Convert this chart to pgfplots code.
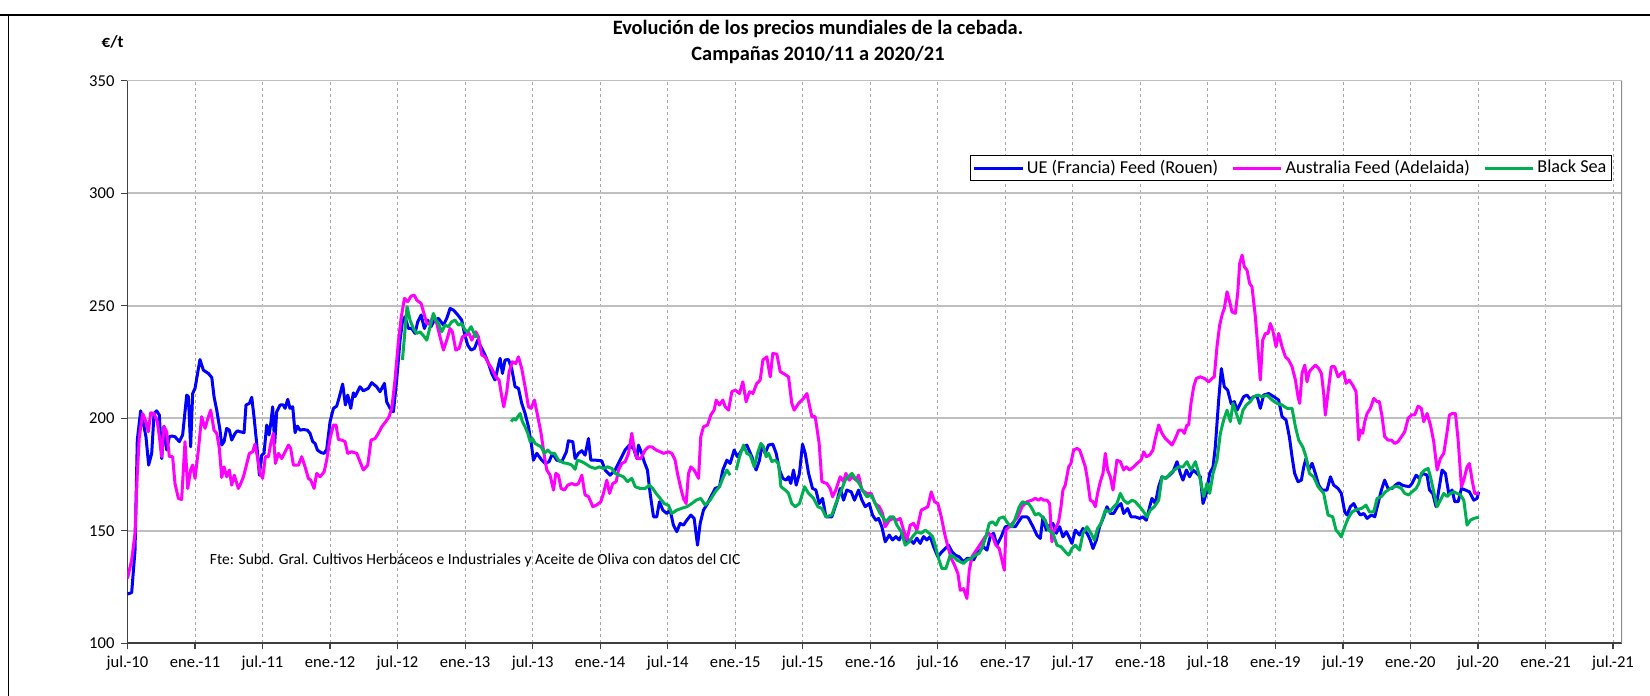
\documentclass[border=0pt]{standalone}
\usepackage{pgfplots}
\pgfplotsset{compat=1.18}
\usepackage{fontspec}
\setmainfont{Carlito}
\definecolor{cblue}{HTML}{0000FF}
\definecolor{cmag}{HTML}{FF00FF}
\definecolor{cgreen}{HTML}{00B050}
\begin{document}
\begin{tikzpicture}
\path[use as bounding box] (0,0) rectangle (825pt,348pt);
\draw[black, line width=1.2pt] (0,340.5pt) -- (825pt,340.5pt);
\draw[black, line width=0.8pt] (4.3pt,340.5pt) -- (4.3pt,0);
\node[font=\fontsize{10.2}{12.7}\selectfont\bfseries, align=center] at (409pt,327pt) {Evolución de los precios mundiales de la cebada.\\Campañas 2010/11 a 2020/21};
\node[font=\fontsize{8.5}{10}\selectfont\bfseries] at (56.3pt,327pt) {€/t};
\begin{axis}[
  at={(63.75pt,26.35pt)}, anchor=south west,
  scale only axis, width=747.25pt, height=281.3pt,
  xmin=0, xmax=132.8, ymin=100, ymax=350,
  axis x line*=bottom, axis y line*=left,
  axis line style={line width=0.9pt, black!75},
  xtick={0,6,...,132},
  xticklabels={jul.-10,ene.-11,jul.-11,ene.-12,jul.-12,ene.-13,jul.-13,ene.-14,jul.-14,ene.-15,jul.-15,ene.-16,jul.-16,ene.-17,jul.-17,ene.-18,jul.-18,ene.-19,jul.-19,ene.-20,jul.-20,ene.-21,jul.-21},
  ytick={100,150,...,350},
  tick align=outside, major tick length=3pt,
  tick style={black!75, line width=0.6pt},
  ticklabel style={font=\fontsize{8.3}{9}\selectfont},
  /pgf/number format/assume math mode=true,
  xmajorgrids, ymajorgrids,
  x grid style={dash pattern=on 1.5pt off 1.5pt, black!35, line width=0.4pt},
  y grid style={black!25, line width=0.8pt},
  unbounded coords=jump,
  legend columns=3,
  legend style={at={(0.9933,0.868)}, anchor=north east, draw=black, line width=0.6pt,
    font=\fontsize{9.1}{9}\selectfont, inner sep=1pt,
    nodes={inner xsep=1.5pt, inner ysep=1.2pt},
    /tikz/every even column/.append style={column sep=5pt}},
  legend image code/.code={\draw[line width=1.5pt,#1] (0cm,0cm) -- (0.85cm,0cm);},
  every axis plot/.append style={line width=1.5pt, line join=round},
]
\addplot[cblue] coordinates {
(0,121.9)(0.37,122.5)(0.67,141.4)(0.87,190.3)(1.17,203.3)(1.47,196.2)(1.64,191.8)(1.88,179.2)(2.15,184.4)(2.36,202.1)(2.59,203.3)(2.83,201.4)(3.04,182.1)(3.24,196.5)(3.48,185.9)(3.72,191.8)(3.93,192.1)(4.22,191.8)(4.61,189.6)(4.90,192.6)(5.26,210.3)(5.41,209.6)(5.61,187.3)(5.79,211.0)(6.0,213.3)(6.44,226.1)(6.74,221.4)(7.19,219.9)(7.49,218.1)(7.69,209.6)(7.93,203.6)(8.22,194.7)(8.37,188.1)(8.58,189.6)(8.81,195.5)(9.05,194.7)(9.26,190.3)(9.56,193.3)(9.76,194.4)(10.0,194.0)(10.36,193.6)(10.53,205.9)(10.83,206.6)(11.04,209.3)(11.24,200.7)(11.48,188.8)(11.72,174.7)(11.93,183.6)(12.13,184.4)(12.37,197.0)(12.58,192.6)(12.73,197.7)(12.90,205.1)(13.08,188.8)(13.26,202.9)(13.56,205.9)(13.85,205.9)(14.0,204.4)(14.24,208.4)(14.44,204.4)(14.68,205.1)(14.89,193.6)(15.1,196.5)(15.33,194.7)(15.63,195.0)(15.99,194.7)(16.22,193.3)(16.46,189.6)(16.67,188.8)(16.87,185.9)(17.17,184.8)(17.47,184.4)(17.70,186.1)(18.0,198.5)(18.30,204.4)(18.59,205.4)(18.83,209.6)(19.12,215.2)(19.36,205.9)(19.57,210.3)(19.84,204.4)(20.07,211.3)(20.22,209.6)(20.66,214.0)(20.96,212.2)(21.40,213.3)(21.70,215.8)(22.14,214.0)(22.44,211.8)(22.83,215.5)(23.03,207.3)(23.33,204.4)(23.63,202.9)(23.92,217.0)(24.22,234.7)(24.43,242.9)(24.66,245.1)(24.96,239.9)(25.26,239.9)(25.55,237.7)(25.79,242.9)(26.09,245.9)(26.38,239.9)(26.68,243.6)(26.97,240.7)(27.27,243.6)(27.63,244.4)(28.07,241.4)(28.37,244.4)(28.66,248.8)(28.96,248.1)(29.35,245.9)(29.70,243.6)(29.94,237.7)(30.23,232.5)(30.53,230.3)(30.83,231.0)(31.12,234.7)(31.48,231.0)(31.77,228.1)(32.07,224.4)(32.37,219.9)(32.66,217.0)(32.96,223.6)(33.11,226.6)(33.32,219.9)(33.55,225.9)(33.85,226.1)(34.14,222.1)(34.44,214.0)(34.74,213.3)(35.03,206.6)(35.33,202.1)(35.63,196.2)(35.92,187.3)(36.07,181.4)(36.37,184.4)(36.81,181.4)(37.11,179.9)(37.46,180.7)(37.76,184.4)(38.14,181.4)(38.59,180.7)(39.0,185.1)(39.18,190.0)(39.57,189.6)(39.77,182.1)(40.07,184.4)(40.37,185.6)(40.66,183.6)(40.96,191.0)(41.17,181.4)(41.55,181.4)(42.14,181.1)(42.44,177.0)(42.89,174.7)(43.33,177.0)(43.77,181.4)(44.22,185.9)(44.60,188.1)(44.96,186.6)(45.26,182.1)(45.40,188.1)(45.70,184.4)(45.91,180.7)(46.20,177.0)(46.44,166.6)(46.74,156.2)(47.03,156.2)(47.27,162.9)(47.57,159.2)(47.92,157.7)(48.22,159.2)(48.51,152.5)(48.81,149.6)(49.11,153.3)(49.40,152.5)(49.70,154.7)(50.06,157.0)(50.35,155.5)(50.65,143.6)(50.89,153.3)(51.18,159.2)(51.54,162.1)(51.92,165.9)(52.22,168.8)(52.60,169.6)(52.90,177.0)(53.26,181.4)(53.55,179.9)(53.91,185.9)(54.20,182.9)(54.59,185.9)(55.03,188.1)(55.48,182.9)(55.86,177.0)(56.16,181.4)(56.37,188.1)(56.66,184.4)(56.96,188.1)(57.34,188.5)(57.64,184.4)(57.94,177.0)(58.23,173.3)(58.53,172.5)(58.74,174.0)(58.94,171.0)(59.18,177.0)(59.42,170.3)(59.71,175.5)(59.98,188.5)(60.22,184.4)(60.52,175.5)(60.87,168.8)(61.17,168.1)(61.46,162.1)(61.76,164.4)(62.06,156.2)(62.59,156.2)(63.03,162.9)(63.33,168.8)(63.63,163.6)(63.92,168.1)(64.31,167.3)(64.60,163.6)(64.96,168.1)(65.26,163.6)(65.55,160.7)(65.91,162.1)(66.20,157.0)(66.50,154.7)(66.74,155.5)(67.03,151.8)(67.33,145.1)(67.69,148.1)(67.98,145.9)(68.28,147.4)(68.57,145.9)(68.87,148.9)(69.17,145.1)(69.55,145.9)(69.85,144.4)(70.14,146.7)(70.44,144.4)(70.74,147.4)(71.03,145.9)(71.33,147.4)(71.63,142.9)(72.01,138.4)(72.37,140.7)(72.66,142.1)(72.96,143.6)(73.26,140.7)(73.55,139.2)(73.91,138.4)(74.29,136.2)(74.59,137.7)(74.89,137.7)(75.18,137.0)(75.48,140.0)(75.77,141.4)(76.07,142.9)(76.37,141.4)(76.66,147.4)(76.96,148.9)(77.26,143.6)(77.64,147.4)(78.0,151.8)(78.44,151.8)(78.89,151.8)(79.18,154.0)(79.48,156.2)(79.92,156.2)(80.07,155.5)(80.46,151.8)(80.81,148.1)(81.11,146.6)(81.35,156.2)(81.64,150.3)(81.94,152.5)(82.23,153.3)(82.53,148.9)(82.83,151.8)(83.12,147.3)(83.42,149.6)(83.72,146.6)(83.92,144.4)(84.22,150.3)(84.60,148.1)(84.90,151.0)(85.26,148.9)(85.55,145.9)(85.79,142.1)(86.09,145.9)(86.38,151.8)(86.74,156.2)(87.03,160.7)(87.33,157.7)(87.63,157.7)(87.98,160.7)(88.28,162.1)(88.52,157.7)(88.87,159.9)(89.17,156.2)(89.55,156.2)(89.94,155.5)(90.23,156.2)(90.53,154.7)(90.83,160.7)(91.03,164.4)(91.33,162.1)(91.63,169.6)(91.92,174.0)(92.22,173.3)(92.60,174.7)(92.90,176.2)(93.26,180.7)(93.55,175.5)(93.79,172.5)(94.09,177.0)(94.38,174.0)(94.68,177.0)(95.03,175.5)(95.33,174.0)(95.57,162.1)(95.86,166.6)(96.16,175.5)(96.46,178.4)(96.66,187.3)(96.96,208.1)(97.20,222.1)(97.46,214.0)(97.76,212.5)(98.06,206.6)(98.35,207.4)(98.59,203.6)(98.89,206.6)(99.18,209.6)(99.48,210.3)(99.77,208.4)(100.07,209.6)(100.37,209.9)(100.66,204.4)(100.96,210.3)(101.40,211.0)(101.85,209.6)(102.29,208.1)(102.59,200.7)(102.95,199.2)(103.24,191.8)(103.48,182.9)(103.71,175.5)(104.01,171.8)(104.31,172.5)(104.52,178.4)(104.72,182.1)(104.96,177.0)(105.26,180.0)(105.55,175.5)(105.85,170.3)(106.15,168.1)(106.59,168.1)(106.89,174.0)(107.18,170.3)(107.57,168.8)(107.86,166.6)(108.16,158.4)(108.37,157.0)(108.66,160.7)(108.96,162.1)(109.26,159.2)(109.55,157.0)(109.85,157.7)(110.15,155.5)(110.53,157.0)(110.83,156.2)(111.12,162.1)(111.42,168.1)(111.71,172.5)(112.01,168.8)(112.37,168.8)(112.66,170.3)(112.96,171.3)(113.26,170.3)(113.55,169.9)(113.91,169.6)(114.14,171.0)(114.50,174.7)(114.80,173.3)(115.09,175.5)(115.48,174.7)(115.69,168.1)(115.98,166.6)(116.28,160.7)(116.52,168.1)(116.81,177.0)(117.11,175.5)(117.40,166.6)(117.70,168.1)(117.94,162.9)(118.24,162.9)(118.53,168.8)(118.89,168.1)(119.24,167.3)(119.63,163.6)(119.92,164.4)(120.07,167.3)
};
\addlegendentry{UE (Francia) Feed (Rouen)}
\addplot[cmag] coordinates {
(0,128.8)(0.37,137.0)(0.67,148.9)(0.87,175.5)(1.05,191.8)(1.35,202.1)(1.64,198.5)(1.85,194.0)(2.06,202.4)(2.36,202.1)(2.65,198.5)(2.83,191.8)(3.04,182.9)(3.24,196.3)(3.48,194.0)(3.72,182.9)(4.01,182.9)(4.22,171.0)(4.52,164.4)(4.81,163.9)(5.11,189.6)(5.35,168.8)(5.61,177.0)(5.79,179.2)(6.0,173.3)(6.30,185.9)(6.59,200.7)(6.89,195.5)(7.10,199.2)(7.39,203.6)(7.69,194.7)(7.93,193.3)(8.16,186.6)(8.37,173.7)(8.58,178.4)(8.81,174.0)(9.05,177.0)(9.26,170.3)(9.49,174.7)(9.85,168.8)(10.06,171.0)(10.30,174.0)(10.53,178.4)(10.83,184.4)(11.12,185.1)(11.33,188.5)(11.54,182.9)(11.78,175.5)(12.01,173.3)(12.25,182.9)(12.52,182.9)(12.73,188.8)(12.96,193.3)(13.14,179.9)(13.41,184.4)(13.70,182.1)(14.0,185.1)(14.30,188.1)(14.50,186.6)(14.74,179.2)(15.19,179.2)(15.48,182.9)(15.78,178.4)(16.07,173.3)(16.28,172.5)(16.58,168.8)(16.81,175.5)(17.11,174.0)(17.47,176.2)(17.70,181.4)(18.0,191.0)(18.30,197.0)(18.53,197.0)(18.74,190.6)(19.04,190.3)(19.33,189.6)(19.57,184.4)(19.92,185.1)(20.37,184.4)(20.66,180.7)(20.96,177.0)(21.35,179.2)(21.64,190.3)(22.0,191.0)(22.29,193.3)(22.59,196.2)(22.95,198.5)(23.24,200.7)(23.48,204.4)(23.77,217.0)(24.07,234.0)(24.31,244.4)(24.61,253.3)(24.90,251.8)(25.20,254.3)(25.49,254.7)(25.70,252.5)(26.09,251.0)(26.38,245.9)(26.59,242.1)(26.89,242.1)(27.18,245.9)(27.48,242.1)(27.77,236.2)(28.07,230.3)(28.37,234.7)(28.66,239.9)(28.87,238.4)(29.17,230.3)(29.46,231.0)(29.76,236.2)(30.06,236.9)(30.35,237.7)(30.59,234.7)(30.94,238.4)(31.18,236.2)(31.48,228.1)(31.77,227.3)(32.07,224.4)(32.37,222.1)(32.72,218.4)(33.02,217.0)(33.26,209.6)(33.43,205.1)(33.70,211.8)(33.91,220.7)(34.20,225.1)(34.50,224.3)(34.74,227.3)(35.03,222.1)(35.33,214.0)(35.63,205.1)(35.86,204.4)(36.16,208.1)(36.46,200.7)(36.75,193.3)(37.05,182.9)(37.26,177.0)(37.55,174.7)(37.85,168.1)(38.06,175.5)(38.29,174.7)(38.53,168.8)(38.83,168.1)(39.12,170.3)(39.48,171.0)(39.83,170.3)(40.07,171.0)(40.37,174.7)(40.66,165.9)(40.96,165.2)(41.35,160.7)(41.70,161.5)(42.06,162.9)(42.29,166.6)(42.59,172.5)(42.83,166.6)(43.12,171.0)(43.42,171.8)(43.63,177.0)(43.92,179.9)(44.22,180.7)(44.52,184.4)(44.81,193.3)(45.02,186.6)(45.26,182.1)(45.61,182.1)(46.0,185.9)(46.29,187.3)(46.59,187.3)(46.97,185.9)(47.33,185.1)(47.63,184.4)(48.07,185.1)(48.37,184.4)(48.66,181.4)(48.87,175.5)(49.17,168.8)(49.40,164.4)(49.64,162.1)(49.85,175.5)(50.06,178.4)(50.35,177.0)(50.74,173.3)(50.94,191.8)(51.18,196.2)(51.54,197.0)(51.83,201.4)(52.13,203.7)(52.31,208.1)(52.60,205.9)(52.90,208.1)(53.11,205.1)(53.41,203.6)(53.70,211.8)(54.0,212.5)(54.38,211.0)(54.68,216.2)(54.97,207.3)(55.27,211.8)(55.57,211.0)(55.92,215.5)(56.22,217.0)(56.46,225.9)(56.81,227.3)(57.11,218.4)(57.34,228.8)(57.70,228.5)(58.0,220.7)(58.29,219.9)(58.74,218.4)(59.03,206.6)(59.24,203.6)(59.63,206.6)(60.07,208.8)(60.37,211.0)(60.81,200.7)(61.11,200.7)(61.46,188.8)(61.70,171.8)(62.14,171.0)(62.44,168.8)(62.65,165.1)(62.94,168.1)(63.33,174.0)(63.63,171.8)(63.83,175.5)(64.13,172.5)(64.43,174.0)(64.72,172.5)(64.96,174.7)(65.26,168.1)(65.70,166.6)(66.09,166.6)(66.44,162.1)(66.80,160.7)(67.09,157.7)(67.33,151.8)(67.69,154.7)(68.07,155.5)(68.37,154.7)(68.66,155.5)(68.96,150.3)(69.26,145.9)(69.55,152.5)(69.85,153.3)(70.14,150.3)(70.53,159.2)(70.83,159.9)(71.12,160.7)(71.42,167.3)(71.71,162.9)(72.01,162.1)(72.31,156.2)(72.60,148.9)(72.90,142.9)(73.20,137.7)(73.49,134.7)(73.79,131.0)(74.0,123.6)(74.29,124.3)(74.59,119.9)(74.80,132.5)(75.04,138.5)(75.33,140.7)(75.63,142.9)(75.92,145.1)(76.22,147.4)(76.52,148.9)(76.87,147.4)(77.17,143.6)(77.46,142.1)(77.70,137.0)(77.91,132.5)(78.06,150.3)(78.35,151.8)(78.74,154.0)(79.12,156.2)(79.48,160.7)(79.92,162.9)(80.37,163.6)(80.66,164.4)(80.96,163.6)(81.17,164.4)(81.40,163.6)(81.70,163.6)(81.94,162.1)(82.14,145.1)(82.29,149.6)(82.53,151.8)(82.74,154.0)(82.95,160.7)(83.12,168.1)(83.33,170.3)(83.63,178.4)(83.83,179.9)(84.07,185.9)(84.37,186.6)(84.60,185.9)(84.81,183.0)(85.11,178.4)(85.31,172.5)(85.55,163.6)(85.79,162.9)(86.0,160.7)(86.20,166.6)(86.44,171.8)(86.68,175.5)(86.89,184.4)(87.09,177.0)(87.33,174.0)(87.57,168.1)(87.92,181.4)(88.22,180.7)(88.52,177.0)(88.75,178.4)(89.05,177.0)(89.40,178.4)(89.70,179.9)(90.06,181.4)(90.30,185.1)(90.53,182.9)(90.83,183.7)(91.12,185.9)(91.33,191.0)(91.63,197.0)(91.92,193.3)(92.22,191.0)(92.52,189.6)(92.81,188.1)(93.11,191.0)(93.41,194.7)(93.70,194.7)(93.91,193.3)(94.14,197.0)(94.29,197.0)(94.50,206.6)(94.74,214.0)(94.97,217.7)(95.33,218.4)(95.69,217.7)(96.07,216.2)(96.37,217.7)(96.57,218.4)(96.81,231.8)(97.05,241.4)(97.26,245.9)(97.46,248.8)(97.70,256.2)(97.94,251.8)(98.14,247.3)(98.44,246.6)(98.65,255.5)(98.83,268.8)(99.04,272.5)(99.24,267.3)(99.48,265.8)(99.71,259.9)(99.92,258.4)(100.22,245.1)(100.46,230.3)(100.66,217.0)(100.87,234.7)(101.11,237.7)(101.35,237.7)(101.55,242.1)(101.76,239.2)(102.06,231.8)(102.29,237.7)(102.59,231.8)(102.89,227.3)(103.18,225.9)(103.48,222.9)(103.78,217.0)(104.01,209.6)(104.16,206.6)(104.37,220.0)(104.61,223.6)(104.81,216.2)(105.02,220.7)(105.26,222.2)(105.55,223.6)(105.85,222.1)(106.09,219.9)(106.29,211.0)(106.44,201.4)(106.74,214.0)(106.97,222.9)(107.27,222.9)(107.57,218.4)(107.86,219.9)(108.07,220.7)(108.28,215.5)(108.57,216.9)(108.87,214.7)(109.17,211.8)(109.40,190.3)(109.55,194.7)(109.76,193.3)(109.94,198.5)(110.15,202.1)(110.44,204.4)(110.74,208.8)(111.04,207.4)(111.24,207.4)(111.48,200.7)(111.71,191.8)(112.01,190.3)(112.31,190.3)(112.60,188.8)(112.90,189.6)(113.20,191.8)(113.49,194.0)(113.79,199.9)(114.09,201.5)(114.38,201.5)(114.68,205.4)(114.97,204.4)(115.18,198.5)(115.48,202.1)(115.78,197.0)(116.07,189.6)(116.37,177.0)(116.66,182.1)(116.96,184.4)(117.26,194.0)(117.46,201.4)(117.70,202.1)(118.0,202.1)(118.24,190.3)(118.53,169.6)(118.74,172.5)(119.03,178.4)(119.24,179.9)(119.48,172.5)(119.71,166.6)(120.07,166.6)
};
\addlegendentry{Australia Feed (Adelaida)}
\addplot[cgreen] coordinates {
(24.43,225.9)(24.66,239.2)(24.84,249.6)(25.11,243.6)(25.40,239.9)(25.70,237.7)(26.0,238.4)(26.38,236.2)(26.59,234.7)(26.89,240.7)(27.18,246.6)(27.39,243.6)(27.63,242.1)(27.92,238.4)(28.22,241.4)(28.51,240.7)(28.81,242.9)(29.11,243.6)(29.40,241.4)(29.70,242.1)(29.99,239.2)(30.23,238.4)(30.53,240.7)(30.74,238.4)(30.94,236.2)(31.12,236.9)
(32,nan)
(34.09,198.5)(34.29,199.9)(34.50,199.2)(34.68,200.7)(34.89,202.1)(35.09,198.5)(35.33,196.2)(35.57,193.3)(35.78,189.6)(35.98,191.0)(36.22,188.8)(36.46,188.1)(36.75,187.3)(37.05,184.4)(37.34,185.9)(37.64,184.4)(37.94,184.4)(38.29,181.4)(38.74,180.2)(39.12,179.9)(39.48,179.2)(39.77,177.3)(39.98,181.4)(40.37,180.7)(40.66,179.9)(41.11,178.4)(41.55,177.7)(41.94,178.4)(42.29,177.7)(42.65,178.4)(43.03,177.7)(43.33,175.5)(43.71,174.7)(44.07,174.0)(44.43,171.8)(44.81,173.3)(45.11,169.6)(45.55,168.8)(46.0,168.8)(46.38,170.3)(46.68,168.8)(46.97,166.6)(47.33,164.4)(47.69,162.1)(48.07,161.3)(48.37,157.7)(48.81,159.2)(49.26,160.0)(49.70,160.7)(50.14,162.1)(50.53,163.6)(50.94,164.4)(51.33,161.4)(51.77,163.6)(52.22,167.3)(52.60,169.6)(52.96,174.0)(53.26,177.0)(53.55,174.7)
(53.8,nan)
(54.09,177.0)(54.38,182.9)(54.74,188.1)(55.03,184.4)(55.33,183.6)(55.69,178.4)(55.98,184.4)(56.28,188.8)(56.52,187.3)(56.75,182.9)(56.96,184.4)(57.26,180.7)(57.55,181.4)(57.85,179.9)(58.06,169.6)(58.44,168.1)(58.74,166.6)(59.03,162.1)(59.33,160.7)(59.71,162.1)(60.16,169.6)(60.52,166.6)(60.96,164.4)(61.35,160.7)(61.70,159.9)(62.06,156.2)(62.59,157.0)(62.94,162.1)(63.33,166.6)(63.77,172.5)(64.07,174.0)(64.37,175.5)(64.66,173.3)(65.02,171.0)(65.31,168.1)(65.70,165.1)(66.09,165.9)(66.44,162.1)(66.80,158.4)(67.09,156.2)(67.39,154.0)(67.77,156.2)(68.07,156.2)(68.37,152.5)(68.75,149.6)(69.11,143.6)(69.46,145.1)(69.76,147.4)(70.14,149.6)(70.53,148.9)(70.89,150.3)(71.24,148.9)(71.54,147.4)(71.77,143.6)(72.07,137.7)(72.37,133.2)(72.72,133.2)(73.11,139.2)(73.41,138.5)(73.70,137.0)(74.0,136.2)(74.29,135.5)(74.59,137.0)(74.97,137.7)(75.33,139.2)(75.69,140.0)(75.98,142.9)(76.28,147.4)(76.57,153.3)(76.87,154.0)(77.17,152.5)(77.46,155.5)(77.85,156.2)(78.23,153.3)(78.59,151.8)(78.89,155.5)(79.24,160.7)(79.53,162.9)(79.92,162.1)(80.07,162.1)(80.37,159.9)(80.66,157.0)(80.96,157.7)(81.26,156.2)(81.55,154.7)(81.85,150.3)(82.23,148.9)(82.59,143.6)(82.95,142.9)(83.33,140.7)(83.63,139.2)(83.92,142.1)(84.22,143.6)(84.60,141.4)(84.90,148.9)(85.26,151.8)(85.61,148.9)(85.91,145.9)(86.20,151.0)(86.50,153.3)(86.89,159.2)(87.27,158.4)(87.63,160.7)(87.92,162.1)(88.22,166.6)(88.52,163.6)(88.87,162.1)(89.26,163.6)(89.55,162.9)(89.94,160.7)(90.30,158.4)(90.59,156.2)(90.89,159.2)(91.24,160.7)(91.63,163.6)(91.92,174.0)(92.31,173.3)(92.66,175.5)(93.02,177.0)(93.41,178.4)(93.79,178.4)(94.14,180.7)(94.50,177.0)(94.89,180.7)(95.27,174.0)(95.63,165.2)(95.92,171.1)(96.16,166.6)(96.46,175.5)(96.81,181.4)(97.11,193.3)(97.40,199.2)(97.70,203.6)(98.0,198.5)(98.23,206.6)(98.53,202.1)(98.83,197.7)(99.12,203.6)(99.42,205.9)(99.77,207.4)(100.07,209.6)(100.46,210.3)(100.81,209.6)(101.26,210.3)(101.70,208.1)(102.14,206.6)(102.59,205.9)(103.03,204.4)(103.48,204.4)(103.78,196.2)(104.07,190.3)(104.43,187.3)(104.72,182.9)(105.02,175.5)(105.40,174.0)(105.79,169.6)(106.29,166.6)(106.68,157.0)(107.09,156.2)(107.39,150.3)(107.63,148.9)(107.86,147.3)(108.16,151.8)(108.46,155.5)(108.81,158.4)(109.26,159.5)(109.64,159.9)(110.06,161.4)(110.35,158.4)(110.74,158.4)(111.04,164.4)(111.42,165.2)(111.77,167.3)(112.22,168.8)(112.60,169.6)(112.90,169.6)(113.20,168.8)(113.49,166.6)(113.85,165.9)(114.14,167.3)(114.50,168.8)(114.74,171.0)(114.97,175.5)(115.27,177.0)(115.57,177.7)(115.78,174.0)(116.07,167.3)(116.37,160.7)(116.66,163.6)(116.96,166.6)(117.26,165.2)(117.55,166.6)(117.85,167.3)(118.14,166.6)(118.44,165.9)(118.74,163.6)(119.03,152.5)(119.33,154.7)(119.63,155.5)(120.07,156.0)
};
\addlegendentry{Black Sea}
\node[anchor=west, font=\fontsize{7.75}{8}\selectfont] at (axis cs:6.7,137) {Fte: Subd. Gral. Cultivos Herbáceos e Industriales y Aceite de Oliva con datos del CIC};
\draw[black!45, line width=1.2pt] (rel axis cs:1,0) -- (rel axis cs:1,1);
\end{axis}
\end{tikzpicture}
\end{document}
